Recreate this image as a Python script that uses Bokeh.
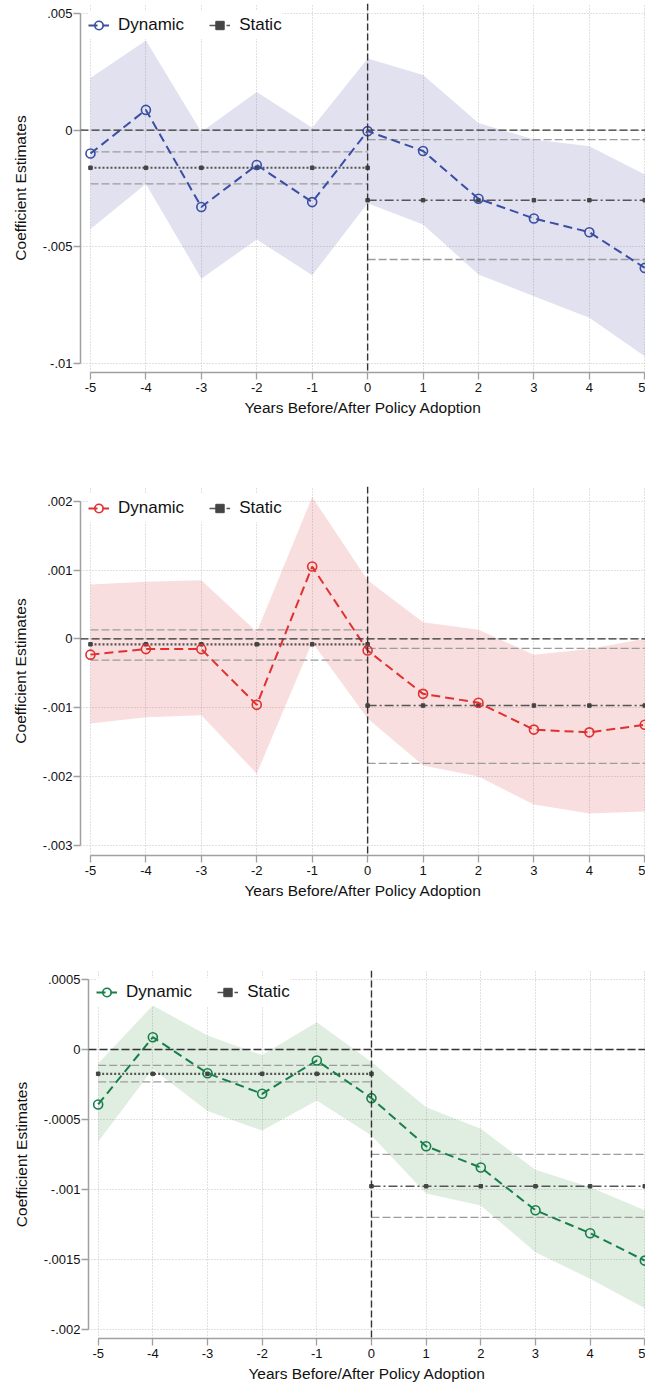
from bokeh.plotting import figure
from bokeh.models import (Range1d, FixedTicker, Span, CustomJSTickFormatter,
                          Legend, LegendItem)
from bokeh.embed import file_html
from bokeh.resources import INLINE

# ---------------- data ----------------
years = [-5, -4, -3, -2, -1, 0, 1, 2, 3, 4, 5]
pre_years = [-5, -4, -3, -2, -1, 0]
post_years = [0, 1, 2, 3, 4, 5]
x_tick_labels = ["-5", "-4", "-3", "-2", "-1", "0", "1", "2", "3", "4", "5"]

# Panel 1
p1_coef = [-0.00100, 0.00087, -0.00329, -0.00149, -0.00308, -0.00004,
           -0.00089, -0.00294, -0.00378, -0.00437, -0.00590]
p1_upper = [0.00224, 0.00384, -0.00008, 0.00164, 0.00010, 0.00307,
            0.00236, 0.00031, -0.00040, -0.00069, -0.00190]
p1_lower = [-0.00423, -0.00230, -0.00636, -0.00468, -0.00621, -0.00313,
            -0.00404, -0.00618, -0.00711, -0.00804, -0.00968]
p1_static_pre = -0.00161
p1_static_pre_lo = -0.00230
p1_static_pre_hi = -0.00093
p1_static_post = -0.00300
p1_static_post_lo = -0.00554
p1_static_post_hi = -0.00040
p1_y_ticks = [-0.01, -0.005, 0, 0.005]
p1_y_labels = ["-.01", "-.005", "0", ".005"]

# Panel 2
p2_coef = [-0.00023, -0.00015, -0.00015, -0.00096, 0.00105, -0.00017,
           -0.00080, -0.00093, -0.00132, -0.00136, -0.00125]
p2_upper = [0.00079, 0.00083, 0.00085, 0.00010, 0.00206, 0.00085,
            0.00024, 0.00013, -0.00023, -0.00015, 0.00000]
p2_lower = [-0.00123, -0.00114, -0.00111, -0.00196, -0.00005, -0.00116,
            -0.00184, -0.00200, -0.00241, -0.00254, -0.00251]
p2_static_pre = -0.00008
p2_static_pre_lo = -0.00031
p2_static_pre_hi = 0.00013
p2_static_post = -0.00097
p2_static_post_lo = -0.00181
p2_static_post_hi = -0.00014
p2_y_ticks = [-0.003, -0.002, -0.001, 0, 0.001, 0.002]
p2_y_labels = ["-.003", "-.002", "-.001", "0", ".001", ".002"]

# Panel 3
p3_coef = [-0.000393, 0.000088, -0.000170, -0.000317, -0.000079, -0.000348,
           -0.000692, -0.000844, -0.001150, -0.001314, -0.001510]
p3_upper = [-0.000100, 0.000315, 0.000100, -0.000040, 0.000195, -0.000090,
            -0.000413, -0.000567, -0.000860, -0.000985, -0.001150]
p3_lower = [-0.000660, -0.000140, -0.000440, -0.000580, -0.000365, -0.000615,
            -0.001030, -0.001116, -0.001450, -0.001640, -0.001850]
p3_static_pre = -0.000174
p3_static_pre_lo = -0.000231
p3_static_pre_hi = -0.000114
p3_static_post = -0.000978
p3_static_post_lo = -0.001200
p3_static_post_hi = -0.000750
p3_y_ticks = [-0.002, -0.0015, -0.001, -0.0005, 0, 0.0005]
p3_y_labels = ["-.002", "-.0015", "-.001", "-.0005", "0", ".0005"]

FONT = "Liberation Sans"
TICK_JS = """
let best = 0, bd = Infinity;
for (let i = 0; i < vals.length; i++) {
  const d = Math.abs(vals[i] - tick);
  if (d < bd) { bd = d; best = i; }
}
return labels[best];
"""


def make_panel(coef, upper, lower, s_pre, s_pre_lo, s_pre_hi,
               s_post, s_post_lo, s_post_hi, y_ticks, y_labels,
               line_color, shade_color, shade_alpha,
               height, top, bottom, left, xr, yr):
    p = figure(width=645, height=height, output_backend="svg",
               toolbar_location=None, min_border_top=top,
               min_border_bottom=bottom, min_border_left=left,
               min_border_right=0, x_range=Range1d(*xr), y_range=Range1d(*yr))
    p.outline_line_color = None
    p.background_fill_color = "white"
    p.border_fill_color = "white"

    for ax, ticks, labels in ((p.xaxis[0], years, x_tick_labels),
                              (p.yaxis[0], y_ticks, y_labels)):
        ax.ticker = FixedTicker(ticks=ticks)
        ax.formatter = CustomJSTickFormatter(args=dict(vals=ticks, labels=labels), code=TICK_JS)
        ax.bounds = (min(ticks), max(ticks))
        ax.axis_line_color = "#a0a0a0"
        ax.axis_line_width = 1.5
        ax.major_tick_line_color = "#a0a0a0"
        ax.major_tick_line_width = 1.3
        ax.major_tick_out = 7
        ax.major_tick_in = 0
        ax.minor_tick_line_color = None
        ax.major_label_text_font = FONT
        ax.major_label_text_font_size = "13px"
        ax.major_label_text_color = "#111111"
        ax.axis_label_text_font = FONT
        ax.axis_label_text_font_size = "15.5px"
        ax.axis_label_text_font_style = "normal"
        ax.axis_label_text_color = "#111111"
    p.xaxis.major_label_standoff = 3
    p.xaxis.axis_label_standoff = 4
    p.yaxis.major_label_standoff = 1
    p.yaxis.axis_label_standoff = 11
    p.xaxis.axis_label = "Years Before/After Policy Adoption"
    p.yaxis.axis_label = "Coefficient Estimates"

    for g in (p.xgrid[0], p.ygrid[0]):
        g.grid_line_color = "#c2c2c2"
        g.grid_line_dash = "1 2"
        g.grid_line_width = 1
    p.xgrid.ticker = FixedTicker(ticks=years)
    p.ygrid.ticker = FixedTicker(ticks=y_ticks)

    # confidence band
    p.varea(x=years, y1=lower, y2=upper, fill_color=shade_color, fill_alpha=shade_alpha)

    # reference lines at zero
    p.add_layout(Span(location=0, dimension="width", line_color="#333333",
                      line_dash="8 3", line_width=1.3))
    p.add_layout(Span(location=0, dimension="height", line_color="#333333",
                      line_dash="7 3", line_width=1.4))

    # static CIs
    for xs, val in ((pre_years, s_pre_lo), (pre_years, s_pre_hi),
                    (post_years, s_post_lo), (post_years, s_post_hi)):
        p.line([xs[0], xs[-1]], [val, val], line_color="#9c9c9c",
               line_dash="8 3", line_width=1.3)

    # static estimates
    p.line(pre_years, [s_pre] * len(pre_years), line_color="#555555",
           line_dash="2 2", line_width=2.2)
    p.scatter(pre_years, [s_pre] * len(pre_years), marker="square", size=3.5,
              color="#444444")
    st_line = p.line(post_years, [s_post] * len(post_years), line_color="#555555",
                     line_dash="9 3 2 3", line_width=1.6)
    st_pts = p.scatter(post_years, [s_post] * len(post_years), marker="square",
                       size=3.5, color="#444444")

    # dynamic estimates
    dyn_line = p.line(years, coef, line_color=line_color, line_dash="9 5",
                      line_width=2)
    dyn_pts = p.scatter(years, coef, marker="circle", size=9,
                        line_color=line_color, line_width=1.6, fill_color=None)

    legend = Legend(items=[LegendItem(label="Dynamic", renderers=[dyn_line, dyn_pts]),
                           LegendItem(label="Static", renderers=[st_line, st_pts])],
                    orientation="horizontal", location="top_left", margin=8,
                    padding=4, spacing=25, glyph_width=21, glyph_height=28,
                    label_height=28, label_standoff=9,
                    label_text_font=FONT, label_text_font_size="17px",
                    label_text_color="#111111",
                    background_fill_color="white", background_fill_alpha=1,
                    border_line_color=None)
    p.add_layout(legend, "center")
    return p


f1 = make_panel(p1_coef, p1_upper, p1_lower, p1_static_pre, p1_static_pre_lo,
                p1_static_pre_hi, p1_static_post, p1_static_post_lo,
                p1_static_post_hi, p1_y_ticks, p1_y_labels,
                "#3a4ea3", "#5a5aaa", 0.18,
                height=486, top=3, bottom=114, left=80,
                xr=(-5.18, 5.013), yr=(-0.010381, 0.005428))
f2 = make_panel(p2_coef, p2_upper, p2_lower, p2_static_pre, p2_static_pre_lo,
                p2_static_pre_hi, p2_static_post, p2_static_post_lo,
                p2_static_post_hi, p2_y_ticks, p2_y_labels,
                "#e0302f", "#dc464b", 0.18,
                height=484, top=0, bottom=115, left=80,
                xr=(-5.18, 5.013), yr=(-0.00315, 0.002214))
f3 = make_panel(p3_coef, p3_upper, p3_lower, p3_static_pre, p3_static_pre_lo,
                p3_static_pre_hi, p3_static_post, p3_static_post_lo,
                p3_static_post_hi, p3_y_ticks, p3_y_labels,
                "#17804a", "#3c8c46", 0.16,
                height=415, top=0, bottom=47, left=88,
                xr=(-5.177, 5.013), yr=(-0.002067, 0.000565))

p = [f1, f2, f3]
open("out.html", "w").write(file_html(p, INLINE))
